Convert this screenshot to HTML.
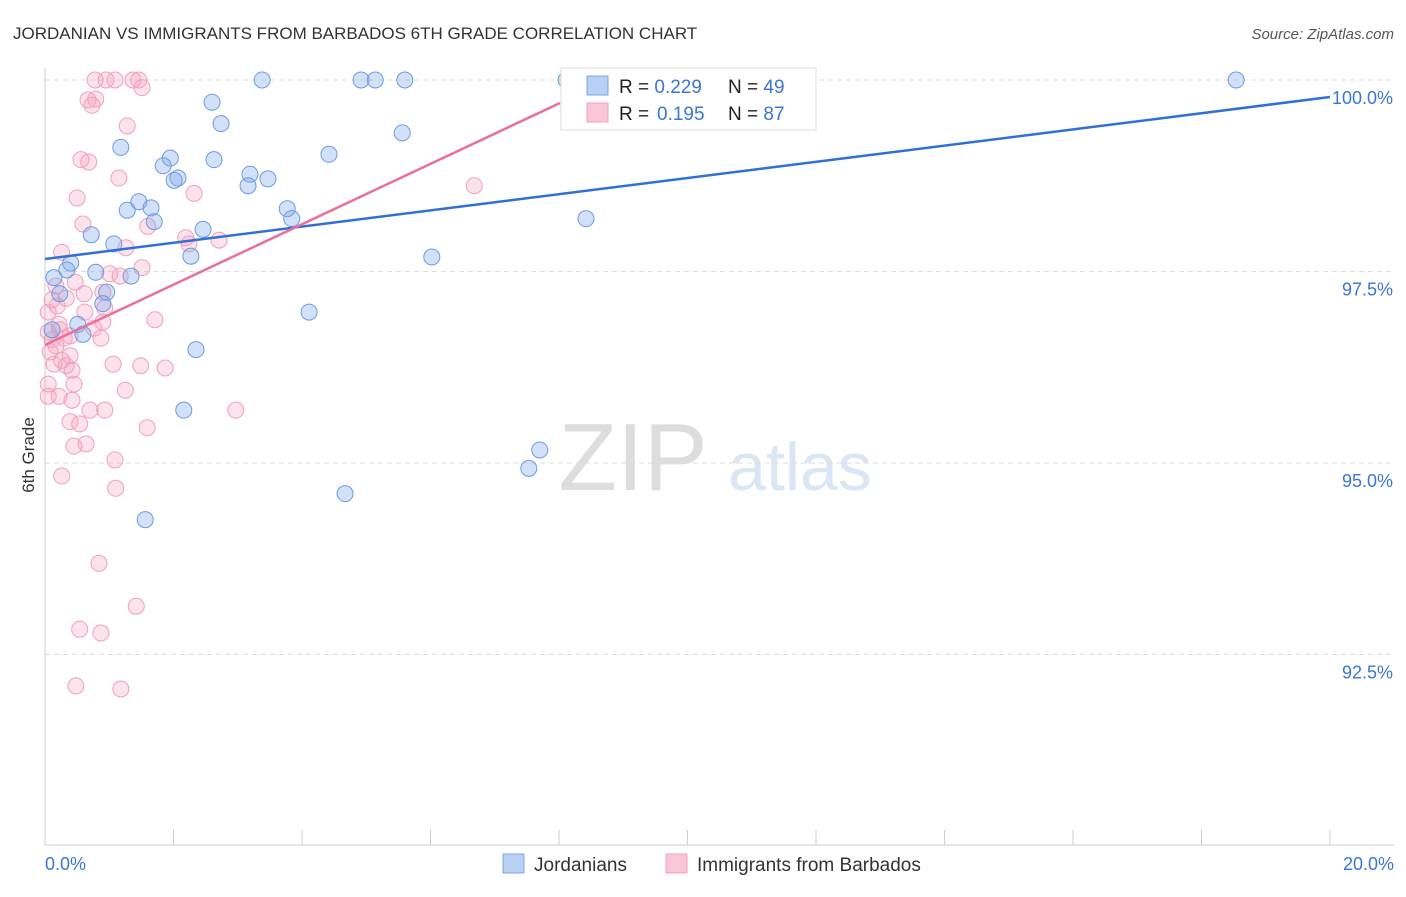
<!DOCTYPE html>
<html><head><meta charset="utf-8"><style>
body{margin:0;background:#fff;font-family:"Liberation Sans",sans-serif}
svg text{font-family:"Liberation Sans",sans-serif}
</style></head><body>
<svg id="chart" width="1406" height="892">
<text x="13" y="39" font-size="17" fill="#333">JORDANIAN VS IMMIGRANTS FROM BARBADOS 6TH GRADE CORRELATION CHART</text>
<text x="1394" y="39" font-size="15" fill="#555" font-style="italic" text-anchor="end">Source: ZipAtlas.com</text>
<text x="34" y="455" font-size="17" fill="#333" text-anchor="middle" transform="rotate(-90 34 455)">6th Grade</text>
<g><text x="633" y="490" font-size="96" fill="#ddd" font-family="Liberation Serif" text-anchor="middle">ZIP</text><text x="800" y="490" font-size="68" fill="#dbe6f5" text-anchor="middle">atlas</text></g>
<g id="grid"></g><g id="ticks"></g><g id="pts"></g><g id="lines"></g>
<g>
<rect x="561" y="68" width="255" height="62" fill="#fff" stroke="#ddd"/>
<rect x="587" y="76" width="21" height="19" fill="#b8d0f4" stroke="#7aa5e0"/>
<rect x="587" y="103" width="21" height="19" fill="#f9c6d6" stroke="#f0a0bc"/>
<text x="619" y="93" font-size="19" fill="#222">R = <tspan fill="#3b76d4">0.229</tspan><tspan x="728">N = </tspan><tspan fill="#3b76d4">49</tspan></text>
<text x="619" y="120" font-size="19" fill="#222">R = <tspan fill="#3b76d4" x="657">0.195</tspan><tspan x="728">N = </tspan><tspan fill="#3b76d4">87</tspan></text>
</g>
<g>
<rect x="503" y="854" width="21" height="19" fill="#b8d0f4" stroke="#7aa5e0"/>
<text x="534" y="871" font-size="19" fill="#333">Jordanians</text>
<rect x="666" y="854" width="21" height="19" fill="#f9c6d6" stroke="#f0a0bc"/>
<text x="697" y="871" font-size="19" fill="#333">Immigrants from Barbados</text>
</g>
</svg>
<script>
const blueX=[3.38,4.92,5.14,5.60,8.11,18.54,2.60,2.74,5.56,1.18,4.42,1.95,1.84,2.63,3.19,2.07,2.01,3.47,3.16,1.46,1.65,1.28,3.77,1.70,3.84,8.42,2.46,0.72,1.07,2.27,6.02,0.40,0.34,0.79,0.14,1.34,0.96,0.23,0.90,4.11,0.51,0.59,2.35,2.16,7.70,7.53,4.67,1.56,0.11];
const blueY=[100,100,100,100,100,100,99.71,99.43,99.31,99.12,99.03,98.98,98.88,98.96,98.77,98.72,98.69,98.71,98.62,98.41,98.33,98.30,98.32,98.15,98.19,98.19,98.05,97.98,97.86,97.70,97.69,97.61,97.52,97.49,97.42,97.44,97.23,97.21,97.08,96.97,96.81,96.68,96.48,95.69,95.17,94.93,94.60,94.26,96.74];
const pinkX=[0.78,0.95,1.09,1.37,1.46,1.51,0.67,0.79,0.73,1.28,0.56,0.68,1.15,2.32,0.50,6.68,0.59,1.60,2.19,2.71,2.24,0.26,1.26,1.51,1.01,1.17,0.47,0.17,0.61,0.90,0.11,0.33,0.19,0.05,0.93,0.62,1.71,0.90,0.22,0.76,0.05,0.39,0.87,0.11,0.17,0.08,0.39,0.26,1.06,1.49,1.87,0.33,0.42,0.05,0.45,1.25,0.22,0.42,0.70,0.93,2.97,0.39,0.54,1.59,0.45,0.64,1.09,0.26,1.10,0.84,1.42,0.54,0.87,0.48,1.18,0.05,0.23,0.30,0.14];
const pinkY=[100,100,100,100,100,99.90,99.74,99.75,99.67,99.40,98.96,98.93,98.72,98.52,98.46,98.62,98.12,98.09,97.94,97.91,97.86,97.75,97.81,97.55,97.47,97.44,97.36,97.31,97.21,97.23,97.13,97.15,97.05,96.97,97.02,96.97,96.87,96.84,96.81,96.76,96.71,96.66,96.63,96.61,96.53,96.45,96.40,96.34,96.29,96.27,96.24,96.27,96.21,96.03,96.03,95.95,95.87,95.82,95.69,95.69,95.69,95.54,95.51,95.46,95.22,95.25,95.04,94.83,94.67,93.69,93.13,92.83,92.78,92.09,92.05,95.87,96.74,96.63,96.29];
const yTicks=[100,97.5,95,92.5];
const yTickLabels=["100.0%","97.5%","95.0%","92.5%"];
const blueTrend=[[0,97.663],[20,99.778]];
const pinkTrend=[[0,96.54],[8.016,99.70]];
const X=v=>45+v/20*1285, Y=v=>80+(100-v)/2.5*191.5;
const NS="http://www.w3.org/2000/svg";
function mk(t,a,p){const e=document.createElementNS(NS,t);for(const k in a)e.setAttribute(k,a[k]);p.appendChild(e);return e;}
const g=document.getElementById('grid'),tk=document.getElementById('ticks'),pts=document.getElementById('pts'),ln=document.getElementById('lines');
yTicks.forEach((t,i)=>{
 const l=mk('line',{x1:45,x2:1394,y1:Y(t),y2:Y(t),stroke:'#ddd','stroke-dasharray':'5,4'},g);
 
 
 const tx=mk('text',{x:1393,y:Y(t)+24,'font-size':18,fill:'#3b76d4','text-anchor':'end'},g);
 tx.textContent=yTickLabels[i];
 
 
});
const ax=mk('line',{x1:45,x2:45,y1:68,y2:845,stroke:'#ccc'},tk);


const bx=mk('line',{x1:45,x2:1394,y1:845,y2:845,stroke:'#ccc'},tk);


for(let k=0;k<=10;k++){const l=mk('line',{x1:X(k*2),x2:X(k*2),y1:830,y2:845,stroke:'#ccc'},tk);
 
 }
[["0.0%",45,'start'],["20.0%",1394,'end']].forEach(a=>{const t=mk('text',{x:a[1],y:870,'font-size':18,fill:'#3b76d4','text-anchor':a[2]},tk);t.textContent=a[0];
 
 });
pinkX.forEach((v,i)=>{const c=mk('circle',{cx:X(v),cy:Y(pinkY[i]),r:8,fill:'rgba(244,160,188,0.3)',stroke:'#f0a0bc','stroke-width':1},pts);
 
 });
blueX.forEach((v,i)=>{const c=mk('circle',{cx:X(v),cy:Y(blueY[i]),r:8,fill:'rgba(130,170,235,0.35)',stroke:'#6c9be0','stroke-width':1},pts);
 
 });
const b=mk('line',{x1:X(blueTrend[0][0]),y1:Y(blueTrend[0][1]),x2:X(blueTrend[1][0]),y2:Y(blueTrend[1][1]),stroke:'#2f6fd6','stroke-width':2.5},ln);


const p=mk('line',{x1:X(pinkTrend[0][0]),y1:Y(pinkTrend[0][1]),x2:X(pinkTrend[1][0]),y2:Y(pinkTrend[1][1]),stroke:'#e8709a','stroke-width':2.5},ln);


</script>
</body></html>
